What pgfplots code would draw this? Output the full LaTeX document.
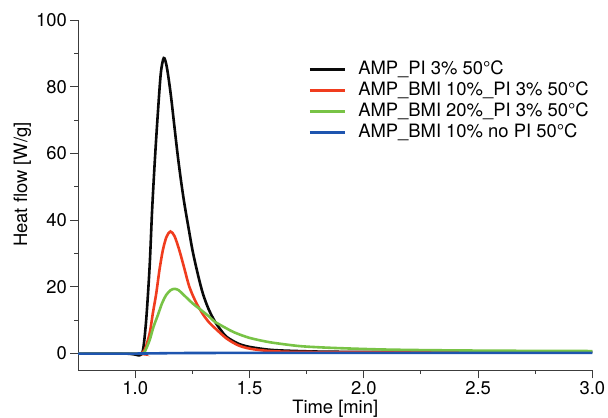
\documentclass[border=0pt]{standalone}
\usepackage{pgfplots}
\pgfplotsset{compat=1.18}
\usepackage{fontspec}
\setmainfont{TeX Gyre Heros}

\definecolor{cBlack}{RGB}{10,10,10}
\definecolor{cRed}{RGB}{240,60,30}
\definecolor{cGreen}{RGB}{120,195,70}
\definecolor{cBlue}{RGB}{30,85,175}
\definecolor{axcol}{RGB}{60,60,60}

\begin{document}
\fontsize{9.2}{10.5}\selectfont
\begin{tikzpicture}
\begin{axis}[
    scale only axis,
    width=257pt, height=175pt,
    xmin=0.75, xmax=3.0,
    ymin=-5, ymax=100,
    axis x line*=bottom,
    axis y line*=left,
    axis line style={-, axcol, line width=0.5pt},
    every tick/.style={axcol, line width=0.5pt},
    tick align=outside,
    major tick length=4pt,
    minor tick length=2pt,
    xtick={1,1.5,2,2.5,3},
    minor x tick num=1,
    ytick={0,20,40,60,80,100},
    minor y tick num=1,
    /pgf/number format/assume math mode=true,
    xticklabel style={/pgf/number format/.cd, fixed, fixed zerofill, precision=1},
    tick label style={font=\fontsize{9.2}{10.5}\selectfont, inner sep=1.4pt},
    label style={font=\fontsize{9.2}{10.5}\selectfont},
    xlabel={Time [min]},
    ylabel={Heat flow [W/g]},
    ylabel style={inner sep=0pt, anchor=center, at={(axis description cs:-0.108,0.53)}},
    xlabel style={inner sep=0pt, anchor=north, at={(axis description cs:0.5,-0.0846)}},
    legend cell align=left,
    legend style={draw=none, fill=none, at={(rel axis cs:0.4475,0.885)}, anchor=north west,
        inner sep=0pt, column sep=6pt, row sep=1.5pt,
        nodes={inner sep=0pt, text height=7pt, text depth=2pt},
        font=\fontsize{9.2}{10.5}\selectfont},
    legend image code/.code={\draw[#1] (0pt,0pt) -- (17.5pt,0pt);},
    every axis plot/.append style={line width=1.3pt, smooth},
    extra description/.code={\path (rel axis cs:0,1) ++(-39pt,10pt);},
]
\addplot[cBlack] coordinates {
(0.75,0) (0.95,0) (1.00,-0.3) (1.02,-0.5) (1.034,1) (1.048,10) (1.063,26) (1.074,43)
(1.086,58) (1.099,72) (1.112,84) (1.125,88.6) (1.138,86)
(1.155,78) (1.170,69) (1.185,60) (1.200,52) (1.215,45) (1.235,37) (1.252,30.5)
(1.275,23.5) (1.296,18) (1.320,13.5) (1.347,9.8) (1.375,7) (1.40,5) (1.45,3)
(1.50,2) (1.58,1.2) (1.65,0.9) (1.8,0.6) (2.0,0.5) (2.5,0.5) (3.0,0.5)
};
\addlegendentry{AMP\_PI 3\% 50°C}
\addplot[cRed] coordinates {
(0.75,0) (1.00,0) (1.02,0) (1.041,1) (1.063,6) (1.077,12) (1.092,18) (1.106,25)
(1.121,31) (1.137,35) (1.154,36.6) (1.172,35.2) (1.193,31) (1.215,25.5)
(1.237,20) (1.265,15.5) (1.296,11.8) (1.325,9.2) (1.354,7.3) (1.40,4.5)
(1.45,2.5) (1.50,1.5) (1.58,0.8) (1.7,0.5) (2.0,0.4) (2.45,0.4)
};
\addlegendentry{AMP\_BMI 10\%\_PI 3\% 50°C}
\addplot[cGreen] coordinates {
(0.75,0) (1.00,0) (1.025,0) (1.041,0.5) (1.063,4) (1.08,8) (1.099,11.5)
(1.117,15) (1.136,17.6) (1.155,19) (1.172,19.4) (1.19,19) (1.215,17.4)
(1.252,15) (1.289,13) (1.325,11) (1.347,9.6) (1.398,7.6) (1.435,6.3)
(1.50,4.7) (1.58,3.5) (1.65,2.8) (1.726,2.2) (1.83,1.8) (1.945,1.5)
(2.10,1.2) (2.31,1.0) (2.6,0.85) (3.0,0.75)
};
\addlegendentry{AMP\_BMI 20\%\_PI 3\% 50°C}
\addplot[cBlue] coordinates {
(0.75,0) (1.0,0) (1.2,0.15) (1.5,0.2) (2.0,0.2) (2.5,0.2) (3.0,0.2)
};
\addlegendentry{AMP\_BMI 10\% no PI 50°C}
\end{axis}
\end{tikzpicture}
\end{document}
